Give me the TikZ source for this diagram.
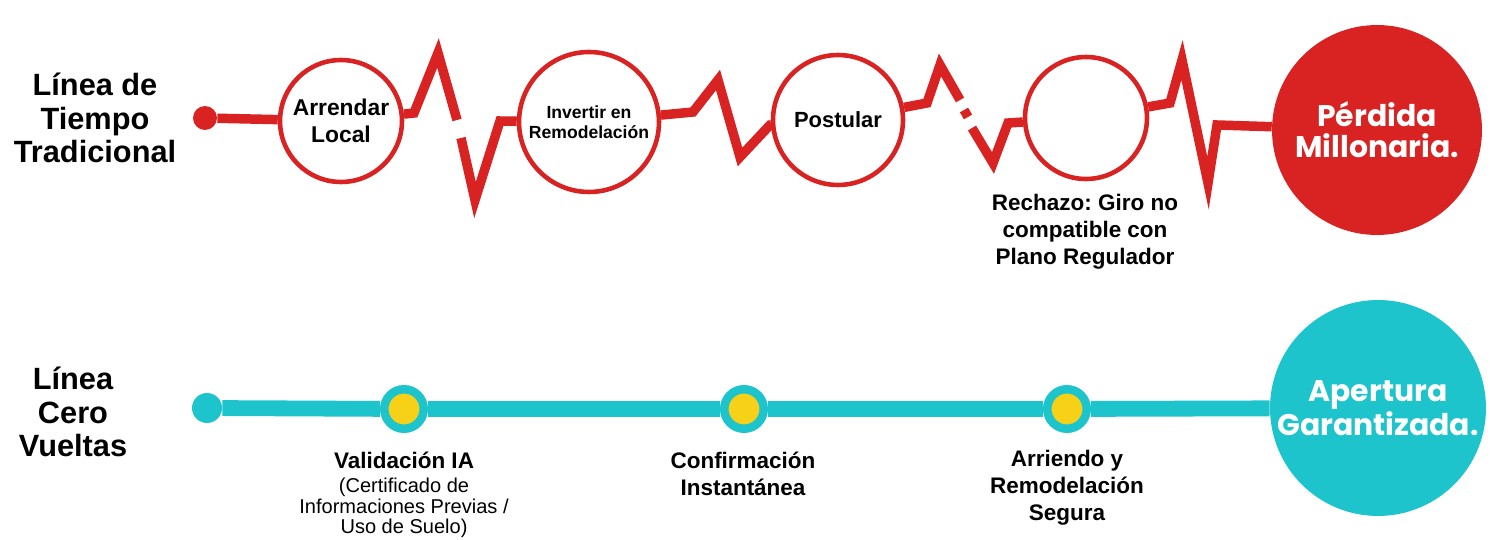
\documentclass[tikz,border=0pt]{standalone}
\usepackage{fontspec}
\setmainfont{Liberation Sans}
\newfontfamily\roundfont{Poppins}
\definecolor{lossred}{RGB}{217,35,35}
\definecolor{zeroteal}{RGB}{30,196,204}
\definecolor{okyellow}{RGB}{247,208,24}
\newcommand{\RowFont}{\fontsize{17.5}{19}\selectfont\bfseries}
\newcommand{\StepFont}{\fontsize{12.8}{15.5}\selectfont\bfseries}
\newcommand{\NoteFont}{\fontsize{11.4}{11.6}\selectfont}
\newcommand{\EndFont}{\roundfont\fontsize{17}{17.8}\selectfont\bfseries}
\frenchspacing

\begin{document}
\begin{tikzpicture}[x=0.02cm,y=-0.02cm,
  redline/.style={draw=lossred,line width=5.4pt,line join=miter},
  tealline/.style={draw=zeroteal,line width=9pt},
  redstop/.style={circle,draw=lossred,line width=2.6pt,fill=white,inner sep=0pt,align=center},
  tealstop/.style={circle,draw=zeroteal,line width=0.17cm,fill=okyellow,inner sep=0pt,minimum size=0.79cm},
  endstop/.style={circle,inner sep=0pt,align=center,text=white,font=\EndFont},
  rowlabel/.style={align=center,font=\RowFont},
  steplabel/.style={align=center,font=\StepFont}]
\useasboundingbox (0,0) rectangle (1491,540);

% traditional line
\node[rowlabel] (rowA) at (95,118) {Línea de\\Tiempo\\Tradicional};
\node[circle,fill=lossred,inner sep=0pt,minimum size=0.48cm] (startA) at (205,118) {};
\node[redstop,minimum size=2.44cm,font={\fontsize{13}{15.3}\selectfont\bfseries}] (arr) at (341,121) {Arrendar\\Local};
\node[redstop,minimum size=2.8cm,font={\fontsize{10}{11.3}\selectfont\bfseries}] (inv) at (589,122) {Invertir en\\Remodelación};
\node[redstop,minimum size=2.6cm,font={\fontsize{12.5}{15}\selectfont\bfseries}] (pos) at (838,120) {Postular};
\node[redstop,minimum size=2.44cm] (rech) at (1086,118) {};
\node[endstop,fill=lossred,minimum size=4.2cm] (perd) at (1377,130) {Pérdida\\Millonaria.};
\node[steplabel] (rechlbl) at (1085,232) {Rechazo: Giro no\\compatible con\\Plano Regulador};

\draw[redline] (startA) -- (arr);
\draw[redline] (arr) -- (414,113) -- (438,53) -- (457,120);
\draw[redline] (461,138) -- (475,200) -- (500,121) -- (inv);
\draw[redline] (inv) -- (693,112) -- (718,80) -- (740,157) -- (770,125) -- (pos);
\draw[redline] (pos) -- (927,103) -- (940,65) -- (960,100);
\draw[redline] (964,110) -- (968,117);
\draw[redline] (972,128) -- (993,163) -- (1008,123) -- (rech);
\draw[redline] (rech) -- (1170,103) -- (1182,60) -- (1208,183) -- (1217,125) -- (perd);

% zero line
\node[rowlabel] (rowB) at (73,412) {Línea\\Cero\\Vueltas};
\node[circle,fill=zeroteal,inner sep=0pt,minimum size=0.6cm] (startB) at (207,408) {};
\node[tealstop] (valid) at (404,409) {};
\node[tealstop] (conf) at (744,409) {};
\node[tealstop] (arri) at (1067,409) {};
\node[endstop,fill=zeroteal,minimum size=4.32cm] (apert) at (1378,408) {Apertura\\Garantizada.};

\draw[tealline] (startB) -- (valid) -- (conf) -- (arri) -- (apert);

\node[steplabel] (validlbl) at (404,460) {Validación IA};
\node[align=center,font=\NoteFont] (validnote) at (404,508) {(Certificado de\\Informaciones Previas /\\Uso de Suelo)};
\node[steplabel] (conflbl) at (743,474) {Confirmación\\Instantánea};
\node[steplabel] (arrilbl) at (1067,488) {Arriendo y\\Remodelación\\Segura};
\end{tikzpicture}
\end{document}
